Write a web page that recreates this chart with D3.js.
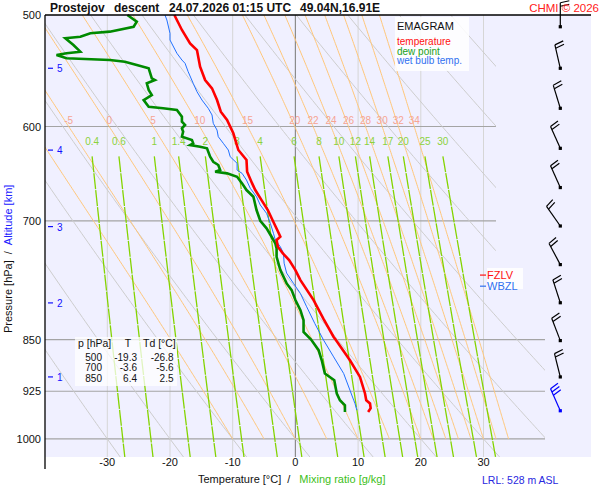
<!DOCTYPE html>
<html>
<head>
<meta charset="utf-8">
<script src="https://cdn.jsdelivr.net/npm/d3@7"></script>
<style>
  body { margin: 0; background: #fff; }
  text { font-family: "Liberation Sans", Arial, sans-serif; }
</style>
</head>
<body>
<div id="wrapper"></div>
<script>
// sounding (hPa, °C)
const tempP = [500, 512.4, 523.7, 529.5, 544.1, 556.1, 563.7, 574.6, 585.7, 593.7, 606.7, 623.5, 633.8, 646.1, 658.5, 665.7, 676.7, 687.8, 700, 712, 718.5, 722.4, 730.4, 738.3, 746.5, 758.8, 771.3, 796.9, 822.1, 846.4, 850, 879.3, 903.6, 928.4, 938.7, 943.7, 951, 956.8]
const tempT = [-19.3, -18.1, -16.8, -15.7, -15.2, -14.4, -13.3, -12.5, -11.9, -10.9, -9.9, -9.1, -7.8, -7.7, -6.9, -6.4, -5.4, -4.4, -3.6, -2.8, -2.4, -3.0, -2.8, -2.0, -1.0, 0.0, 0.8, 2.9, 4.5, 6.1, 6.4, 8.7, 10.3, 11.1, 11.3, 11.9, 12.0, 11.6]

const dewP = [500, 505.5, 509.7, 513.8, 515.2, 518.1, 519.4, 525.1, 530.9, 532.3, 533.8, 536.7, 538.2, 539.7, 542.6, 545.5, 554.5, 556.1, 559.1, 565.2, 569.9, 574.6, 580.9, 582.4, 584.0, 590.5, 595.3, 598.5, 601.8, 605.1, 610.1, 613.4, 616.7, 618.4, 620.1, 621.8, 630.4, 635.6, 639.0, 644.3, 646.1, 647.8, 651.4, 658.5, 665.7, 673.0, 687.8, 700, 708.7, 718.5, 726.3, 732.3, 742.5, 758.8, 775.5, 784.0, 796.9, 810.1, 823.6, 839.5, 850, 864.9, 879.3, 898.6, 908.5, 928.4, 938.7, 946.4, 956.8]
const dewT = [-26.8, -25.3, -25.8, -29.6, -32.7, -34.3, -36.7, -35.4, -34.3, -36.5, -38.1, -36.5, -29.6, -27.2, -25.3, -23.4, -22.9, -22.4, -23.7, -23.4, -22.9, -24.2, -23.4, -21.1, -18.9, -18.1, -18.1, -17.6, -18.1, -17.9, -18.1, -16.5, -16.3, -16.8, -15.2, -14.1, -13.6, -13.1, -12.3, -12.0, -12.8, -10.9, -9.3, -8.5, -7.8, -6.7, -6.2, -5.6, -4.6, -3.8, -3.2, -3.0, -3.0, -2.4, -1.4, -0.6, 0.0, 0.8, 1.3, 1.3, 2.5, 3.7, 4.2, 4.7, 6.2, 6.6, 7.1, 7.9, 7.9]

const wetP = [500, 504.1, 515.2, 520.9, 532.3, 538.2, 541.1, 548.6, 559.1, 566.8, 574.6, 582.4, 588.8, 596.9, 603.5, 610.1, 616.7, 623.5, 630.4, 637.2, 644.3, 647.8, 654.9, 663.8, 673.0, 682.2, 691.5, 702.9, 714.5, 722.4, 730.4, 738.3, 750.2, 762.5, 775.5, 788.3, 805.7, 828.1, 850.9, 874.5, 898.6, 923.4, 938.7, 943.7, 954.1]
const wetT = [-20.8, -20.5, -20.0, -20.0, -18.9, -18.1, -17.6, -17.1, -16.3, -15.7, -14.9, -13.9, -13.3, -13.1, -12.5, -12.3, -11.5, -10.7, -10.4, -9.3, -9.3, -8.5, -7.8, -7.2, -6.2, -5.6, -4.6, -4.0, -3.5, -3.2, -2.4, -1.9, -1.8, -1.4, -0.3, 0.8, 1.8, 3.1, 4.5, 6.1, 7.7, 8.7, 9.3, 9.5, 9.8]

// axes and reference lines
const pressureTicks = [500, 600, 700, 850, 925, 1000]
const tempTicks = [-30, -20, -10, 0, 10, 20, 30]
const mixingRatios = [0.4, 0.6, 1, 1.4, 2, 3, 4, 6, 8, 10, 12, 14, 17, 20, 25, 30]
const moistThetaW = [-10, -5, 0, 5, 10, 15, 20, 22, 24, 26, 28, 30, 32, 34]
const moistLabels = [-5, 0, 5, 10, 15, 20, 22, 24, 26, 28, 30, 32, 34]
const dryTheta = [-30, -20, -10, 0, 10, 20, 30, 40, 50, 60, 70, 80, 90, 100]
const altKm = [1, 2, 3, 4, 5]
const altP = [903.6, 800.6, 706.7, 623.6, 545.5]

// wind barbs (hPa, deg, kt); last one is the surface
const windP = [509.7, 545.5, 582.4, 621.8, 663.0, 706.0, 752.0, 800.4, 851.5, 903.6, 955.0]
const windDir = [360, 347, 343, 336, 336, 325, 332, 342, 339, 346, 336]
const windKt = [20, 20, 20, 20, 20, 20, 20, 20, 20, 20, 30]

const tableP = [500, 700, 850]
const tableT = [-19.3, -3.6, 6.4]
const tableTd = [-26.8, -5.6, 2.5]

const fzlvP = 765
const wbzlP = 779

function drawEmagram() {
  const width = 600
  const height = 500

  const wrapper = d3.select("#wrapper")
    .append("svg")
      .attr("width", width)
      .attr("height", height)

  const xScale = d3.scaleLinear()
    .domain([-40, 40])
    .range([44.6, 546.2])
  const yScale = d3.scaleLog()
    .domain([500, 1030])
    .range([15, 457])

  const plotLeft = 45, plotTop = 15, plotBottom = 457
  const stepY = yScale(815)

  // background
  wrapper.append("rect")
      .attr("x", plotLeft)
      .attr("y", plotTop)
      .attr("width", 591 - plotLeft)
      .attr("height", plotBottom - plotTop)
      .attr("fill", "#f0f0ff")

  wrapper.append("clipPath")
      .attr("id", "plot-clip")
    .append("polygon")
      .attr("points", [
        [plotLeft, plotTop], [496, plotTop], [496, stepY], [545, stepY],
        [545, plotBottom], [plotLeft, plotBottom]
      ].map(d => d.join(",")).join(" "))

  const grid = wrapper.append("g").attr("clip-path", "url(#plot-clip)")

  // vertical temperature lines
  grid.selectAll(".tgrid")
    .data(tempTicks)
    .join("line")
      .attr("x1", d => xScale(d))
      .attr("x2", d => xScale(d))
      .attr("y1", plotTop)
      .attr("y2", plotBottom)
      .attr("stroke", d => d === 0 ? "#8c8c8c" : "#d6d6d6")
      .attr("stroke-width", d => d === 0 ? 1.2 : 1)

  // pressure lines
  grid.selectAll(".pgrid")
    .data(pressureTicks.slice(1))
    .join("line")
      .attr("x1", plotLeft)
      .attr("x2", 600)
      .attr("y1", d => yScale(d))
      .attr("y2", d => yScale(d))
      .attr("stroke", "#a4a4a4")
      .attr("stroke-width", 1.2)

  const line = d3.line()
    .x(d => xScale(d[1]))
    .y(d => yScale(d[0]))

  // dry adiabats
  const presLevels = d3.range(500, 1031, 5)
  const dryLines = dryTheta.map(th =>
    presLevels.map(p => [p, (th + 273.15) * Math.pow(p / 1000, 0.2857) - 273.15]))
  grid.selectAll(".dry")
    .data(dryLines)
    .join("path")
      .attr("d", line)
      .attr("fill", "none")
      .attr("stroke", "#cdcdcd")
      .attr("stroke-width", 1)

  // saturated adiabats
  const Rd = 287.04, cp = 1005.7, Lv = 2.501e6, eps = 0.622
  const dTdp = (p, T) => {
    const es = 6.112 * Math.exp(17.67 * (T - 273.15) / (T - 29.65))
    const rs = eps * es / (p - es)
    return (Rd * T + Lv * rs) / (p * (cp + Lv * Lv * rs * eps / (Rd * T * T)))
  }
  const moistLines = moistThetaW.map(tw => {
    let p = 1000, T = tw + 273.15
    const pts = [[p, tw]]
    const dp = -2
    while (p > 500) {
      const k1 = dTdp(p, T)
      const k2 = dTdp(p + dp / 2, T + k1 * dp / 2)
      T += k2 * dp
      p += dp
      pts.push([p, T - 273.15])
    }
    return { tw, pts }
  })
  grid.selectAll(".moist")
    .data(moistLines)
    .join("path")
      .attr("d", d => line(d.pts))
      .attr("fill", "none")
      .attr("stroke", "#ffc679")
      .attr("stroke-width", 1)

  // mixing ratio lines
  const mixLines = mixingRatios.map(w => {
    const pts = d3.range(630, 1031, 5).map(p => {
      const e = w * p / (622 + w)
      const a = Math.log(e / 6.112)
      return [p, 243.5 * a / (17.67 - a)]
    })
    return { w, pts }
  })
  grid.selectAll(".mix")
    .data(mixLines)
    .join("path")
      .attr("d", d => line(d.pts))
      .attr("fill", "none")
      .attr("stroke", "#84d400")
      .attr("stroke-width", 1.3)
      .attr("stroke-dasharray", "16,1")

  // labels of the saturated adiabats at 600 hPa
  const labelled = moistLines.filter(d => moistLabels.includes(d.tw))
  wrapper.selectAll(".mlabel")
    .data(labelled)
    .join("text")
      .attr("x", d => {
        const pt = d.pts.find(q => q[0] <= 600)
        return xScale(pt[1])
      })
      .attr("y", yScale(600) - 3)
      .attr("text-anchor", "middle")
      .attr("font-size", 10)
      .attr("fill", "#f6a493")
      .text(d => d.tw)

  wrapper.selectAll(".wlabel")
    .data(mixLines)
    .join("text")
      .attr("x", d => xScale(d.pts[0][1]))
      .attr("y", yScale(630) - 11)
      .attr("text-anchor", "middle")
      .attr("font-size", 10)
      .attr("fill", "#8cd23c")
      .text(d => d.w)

  // sounding curves
  const curve = (ps, ts) => ps.map((p, i) => [p, ts[i]])
  wrapper.append("path")
      .attr("d", line(curve(dewP, dewT)))
      .attr("fill", "none")
      .attr("stroke", "#008a00")
      .attr("stroke-width", 2.6)
  wrapper.append("path")
      .attr("d", line(curve(wetP, wetT)))
      .attr("fill", "none")
      .attr("stroke", "#2070ff")
      .attr("stroke-width", 1)
  wrapper.append("path")
      .attr("d", line(curve(tempP, tempT)))
      .attr("fill", "none")
      .attr("stroke", "#ff0000")
      .attr("stroke-width", 2.6)

  // frame
  wrapper.append("line")
      .attr("x1", plotLeft).attr("x2", 591)
      .attr("y1", plotTop).attr("y2", plotTop)
      .attr("stroke", "#000")
      .attr("stroke-width", 1.3)
  wrapper.append("line")
      .attr("x1", plotLeft).attr("x2", plotLeft)
      .attr("y1", plotTop).attr("y2", 469)
      .attr("stroke", "#000")
      .attr("stroke-width", 1.3)

  // pressure labels
  wrapper.selectAll(".plabel")
    .data(pressureTicks)
    .join("text")
      .attr("x", 41)
      .attr("y", d => yScale(d) + 4)
      .attr("text-anchor", "end")
      .attr("font-size", 11)
      .attr("fill", "#111")
      .text(d => d)

  // temperature labels
  wrapper.selectAll(".tlabel")
    .data(tempTicks)
    .join("text")
      .attr("x", d => xScale(d))
      .attr("y", 466)
      .attr("text-anchor", "middle")
      .attr("font-size", 11)
      .attr("fill", "#111")
      .text(d => d)

  // altitude marks
  const alt = wrapper.selectAll(".alt")
    .data(altKm)
    .join("g")
  alt.append("line")
      .attr("x1", 48).attr("x2", 53)
      .attr("y1", (d, i) => yScale(altP[i]))
      .attr("y2", (d, i) => yScale(altP[i]))
      .attr("stroke", "#1010ff")
      .attr("stroke-width", 1.2)
  alt.append("text")
      .attr("x", 57)
      .attr("y", (d, i) => yScale(altP[i]) + 4)
      .attr("font-size", 10)
      .attr("fill", "#1010ff")
      .text(d => d)

  // wind barbs
  const barbs = wrapper.append("g")
  windP.forEach((p, i) => {
    const color = i === windP.length - 1 ? "#0000ff" : "#000"
    const bx = 560.3, by = yScale(p)
    const a = windDir[i] * Math.PI / 180
    const ux = Math.sin(a), uy = -Math.cos(a)
    const px = -uy, py = ux
    const staff = 24
    const g = barbs.append("g").attr("stroke", color).attr("fill", color)
    g.append("line")
        .attr("x1", bx).attr("y1", by)
        .attr("x2", bx + ux * staff).attr("y2", by + uy * staff)
        .attr("stroke-width", 1.2)
    let kt = windKt[i]
    let pos = staff
    while (kt >= 5) {
      const len = kt >= 10 ? 9 : 6
      const sx = bx + ux * pos, sy = by + uy * pos
      g.append("line")
          .attr("x1", sx).attr("y1", sy)
          .attr("x2", sx + px * len + ux * 2).attr("y2", sy + py * len + uy * 2)
          .attr("stroke-width", 1.2)
      kt -= kt >= 10 ? 10 : 5
      pos -= 3.5
    }
    g.append("rect")
        .attr("x", bx - 1.6).attr("y", by - 1.6)
        .attr("width", 3.2).attr("height", 3.2)
        .attr("stroke", "none")
  })

  // title
  const title = [
    ["Prostejov", 50], ["descent", 114], ["24.07.2026 01:15 UTC", 169], ["49.04N,16.91E", 300]
  ]
  wrapper.selectAll(".title")
    .data(title)
    .join("text")
      .attr("x", d => d[1])
      .attr("y", 12)
      .attr("font-size", 12)
      .attr("font-weight", "bold")
      .attr("fill", "#111")
      .text(d => d[0])
  wrapper.append("text")
      .attr("x", 599)
      .attr("y", 12)
      .attr("text-anchor", "end")
      .attr("font-size", 11.5)
      .attr("fill", "#ff2020")
      .text("CHMI © 2026")

  // legend
  wrapper.append("rect")
      .attr("x", 395).attr("y", 17)
      .attr("width", 74).attr("height", 54)
      .attr("fill", "#fff")
      .attr("fill-opacity", 0.85)
  wrapper.append("text")
      .attr("x", 397).attr("y", 30)
      .attr("font-size", 11)
      .attr("fill", "#111")
      .text("EMAGRAM")
  const legend = [["temperature", "#ff1010"], ["dew point", "#20a020"], ["wet bulb temp.", "#3070f0"]]
  wrapper.selectAll(".leg")
    .data(legend)
    .join("text")
      .attr("x", 397)
      .attr("y", (d, i) => 45 + i * 9.7)
      .attr("font-size", 10)
      .attr("fill", d => d[1])
      .text(d => d[0])

  // FZLV / WBZL
  wrapper.append("rect")
      .attr("x", 487).attr("y", 268)
      .attr("width", 36).attr("height", 21)
      .attr("fill", "#fff")
      .attr("fill-opacity", 0.85)
  const levels = [["FZLV", fzlvP, "#ff1010"], ["WBZL", wbzlP, "#3070f0"]]
  levels.forEach(([name, p, c]) => {
    const ly = yScale(p)
    wrapper.append("line")
        .attr("x1", 480).attr("x2", 486)
        .attr("y1", ly).attr("y2", ly)
        .attr("stroke", c)
        .attr("stroke-width", 1.2)
    wrapper.append("text")
        .attr("x", 487).attr("y", ly + 4)
        .attr("font-size", 11)
        .attr("fill", c)
        .text(name)
  })

  // table of values
  wrapper.append("rect")
      .attr("x", 75).attr("y", 337)
      .attr("width", 102).attr("height", 49)
      .attr("fill", "#fff")
      .attr("fill-opacity", 0.75)
  const header = [["p [hPa]", 78, "start"], ["T", 128, "middle"], ["Td [°C]", 143, "start"]]
  wrapper.selectAll(".thead")
    .data(header)
    .join("text")
      .attr("x", d => d[1])
      .attr("y", 346.5)
      .attr("text-anchor", d => d[2])
      .attr("font-size", 10.5)
      .attr("fill", "#111")
      .text(d => d[0])
  tableP.forEach((p, i) => {
    const ry = 361 + i * 10.4
    const cells = [[p, 102], [tableT[i].toFixed(1), 137], [tableTd[i].toFixed(1), 173.5]]
    cells.forEach(([v, cx]) => {
      wrapper.append("text")
          .attr("x", cx).attr("y", ry)
          .attr("text-anchor", "end")
          .attr("font-size", 10)
          .attr("fill", "#111")
          .text(v)
    })
  })

  // axis titles
  const yTitle = wrapper.append("text")
      .attr("transform", "translate(12,333) rotate(-90)")
      .attr("font-size", 11)
  yTitle.append("tspan").attr("fill", "#111").text("Pressure [hPa]")
  yTitle.append("tspan").attr("fill", "#111").attr("dx", 6).text("/")
  yTitle.append("tspan").attr("fill", "#2020ff").attr("dx", 6).text("Altitude [km]")

  const xTitle = wrapper.append("text")
      .attr("x", 198)
      .attr("y", 483)
      .attr("font-size", 11)
  xTitle.append("tspan").attr("fill", "#111").text("Temperature [°C]")
  xTitle.append("tspan").attr("fill", "#111").attr("dx", 6).text("/")
  xTitle.append("tspan").attr("fill", "#40c020").attr("dx", 9).text("Mixing ratio [g/kg]")

  wrapper.append("text")
      .attr("x", 482)
      .attr("y", 484)
      .attr("font-size", 10.5)
      .attr("fill", "#2828e0")
      .text("LRL: 528 m ASL")
}
drawEmagram()
</script>
</body>
</html>
